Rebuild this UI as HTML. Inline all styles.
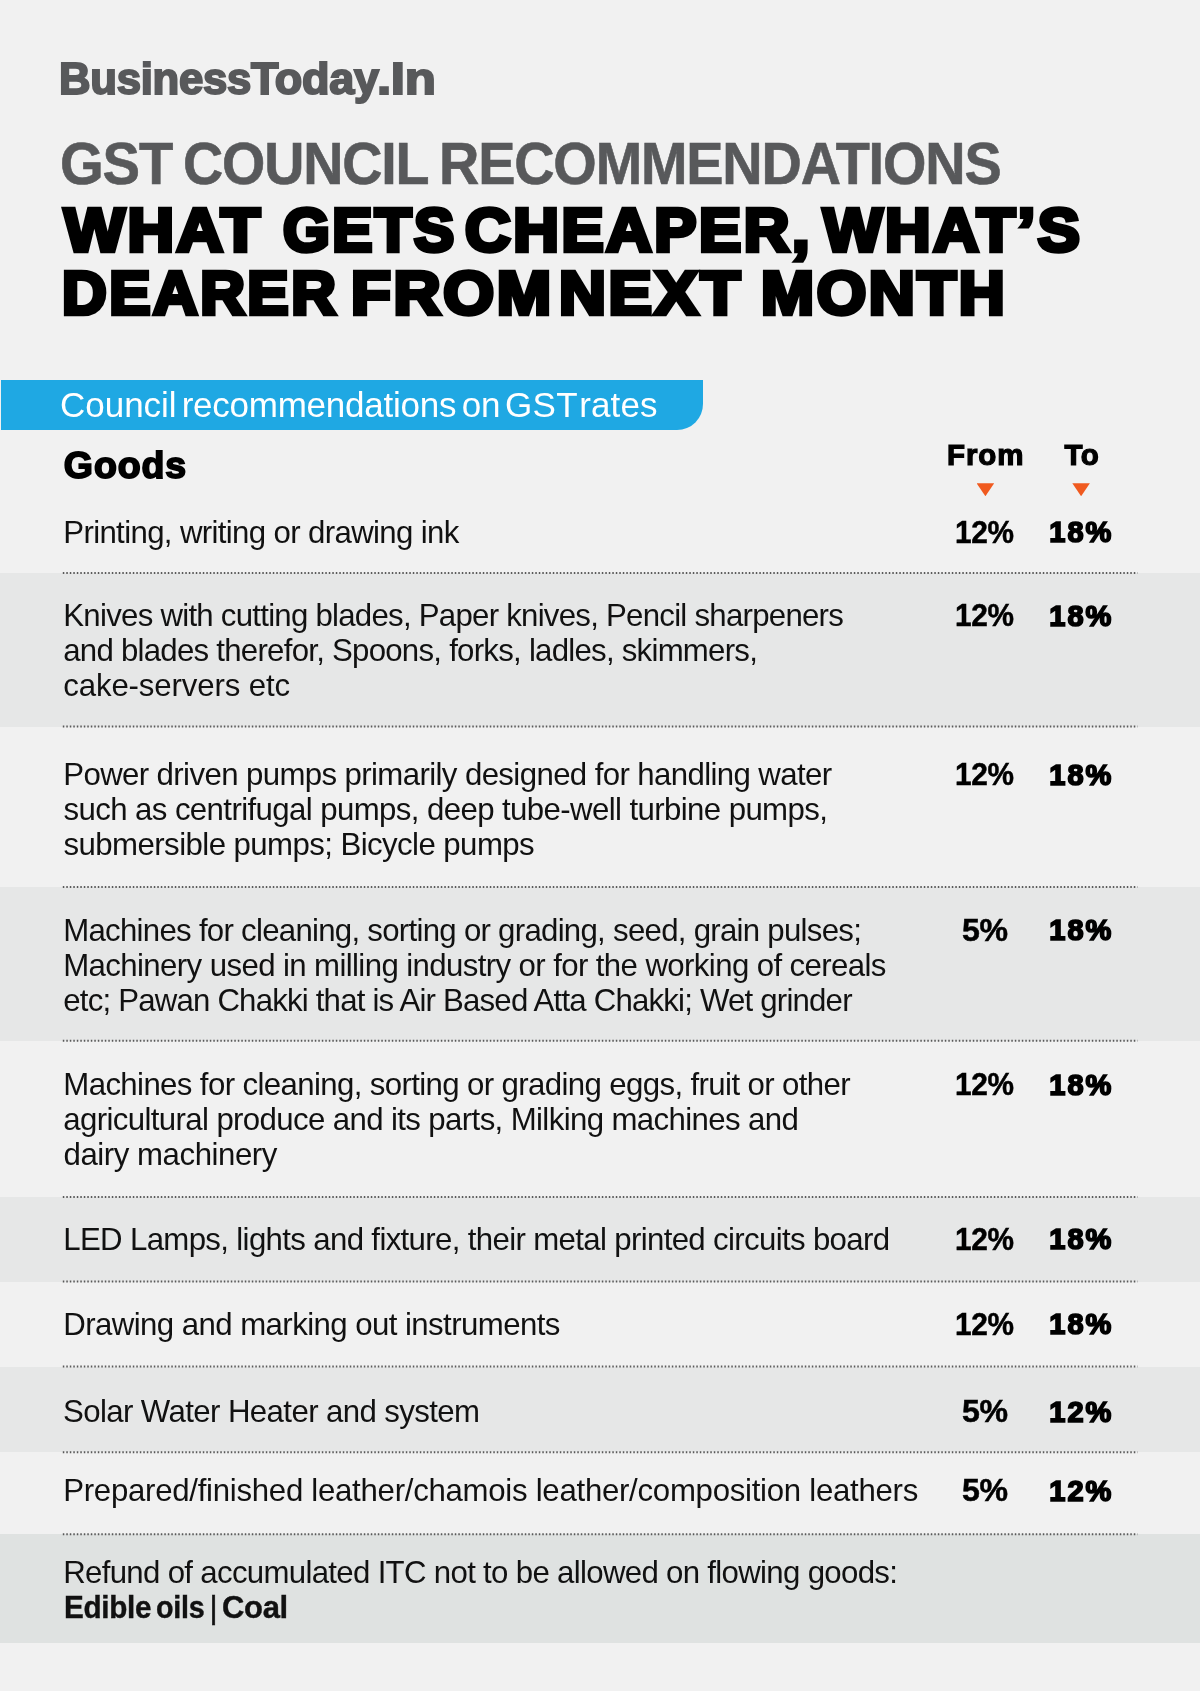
<!DOCTYPE html>
<html><head><meta charset="utf-8"><title>GST Council Recommendations</title>
<style>
html,body{margin:0;padding:0}
body{width:1200px;height:1691px;background:#f1f1f1;position:relative;overflow:hidden;font-family:"Liberation Sans",sans-serif}
.t{position:absolute;white-space:nowrap;line-height:1;margin:0;padding:0}
#txt{position:absolute;left:0;top:0;width:1200px;height:1691px;will-change:transform}
.band{position:absolute;left:0;width:1200px;background:#e6e7e7}
.tri{position:absolute;width:17.6px;height:13px;background:#f05a1f;clip-path:polygon(0 0,100% 0,50% 100%)}
</style></head><body>
<div class="band" style="top:573px;height:153.5px"></div>
<div class="band" style="top:887px;height:153.7px"></div>
<div class="band" style="top:1197px;height:84.5px"></div>
<div class="band" style="top:1366.5px;height:85.7px"></div>
<div class="band" style="top:1534.3px;height:108.7px;background:#dfe2e1"></div>
<div style="position:absolute;left:1px;top:380px;width:701.7px;height:49.8px;background:#1fa8e3;border-bottom-right-radius:26px"></div>
<svg class="dots" width="1200" height="1691" viewBox="0 0 1200 1691" style="position:absolute;left:0;top:0" fill="none" stroke="#5a5a5a" stroke-width="2" stroke-dasharray="1.5 2">
<line x1="62.8" y1="573.0" x2="1137.6" y2="573.0"/>
<line x1="62.8" y1="726.5" x2="1137.6" y2="726.5"/>
<line x1="62.8" y1="887.0" x2="1137.6" y2="887.0"/>
<line x1="62.8" y1="1040.7" x2="1137.6" y2="1040.7"/>
<line x1="62.8" y1="1197.0" x2="1137.6" y2="1197.0"/>
<line x1="62.8" y1="1281.5" x2="1137.6" y2="1281.5"/>
<line x1="62.8" y1="1366.5" x2="1137.6" y2="1366.5"/>
<line x1="62.8" y1="1452.2" x2="1137.6" y2="1452.2"/>
<line x1="62.8" y1="1534.3" x2="1137.6" y2="1534.3"/>
</svg>
<div class="tri" style="left:976.6px;top:483.3px"></div><div class="tri" style="left:1072.3px;top:483.3px"></div>
<div id="txt">
<div class="t" id="logo1" style="left:58.51px;top:56.83px;font-size:44.5px;font-weight:700;color:#58595b;letter-spacing:-0.300px;transform:scaleX(0.9825);transform-origin:0 0;-webkit-text-stroke:2.0px #58595b">Business</div>
<div class="t" id="logo2" style="left:251.00px;top:56.83px;font-size:44.5px;font-weight:700;color:#58595b;letter-spacing:-0.300px;transform:scaleX(1.0121);transform-origin:0 0;-webkit-text-stroke:2.0px #58595b">Today</div>
<div class="t" id="logo3" style="left:377.19px;top:56.83px;font-size:44.5px;font-weight:700;color:#58595b;letter-spacing:-0.300px;transform:scaleX(1.1479);transform-origin:0 0;-webkit-text-stroke:2.0px #58595b">.In</div>
<div class="t" id="gst1" style="left:60.41px;top:134.98px;font-size:58.5px;font-weight:700;color:#58595b;letter-spacing:-1.200px;transform:scaleX(0.9606);transform-origin:0 0;-webkit-text-stroke:0.6px #58595b">GST</div>
<div class="t" id="gst2" style="left:182.81px;top:134.98px;font-size:58.5px;font-weight:700;color:#58595b;letter-spacing:-1.200px;transform:scaleX(0.9507);transform-origin:0 0;-webkit-text-stroke:0.6px #58595b">COUNCIL</div>
<div class="t" id="gst3" style="left:439.13px;top:134.98px;font-size:58.5px;font-weight:700;color:#58595b;letter-spacing:-1.200px;transform:scaleX(0.9538);transform-origin:0 0;-webkit-text-stroke:0.6px #58595b">RECOMMENDATIONS</div>
<div class="t" id="h1a" style="left:63.54px;top:198.89px;font-size:61.5px;font-weight:700;color:#000;letter-spacing:2.500px;transform:scaleX(1.0471);transform-origin:0 0;-webkit-text-stroke:4.5px #000">WHAT</div>
<div class="t" id="h1b" style="left:283.06px;top:198.89px;font-size:61.5px;font-weight:700;color:#000;letter-spacing:2.500px;transform:scaleX(0.9784);transform-origin:0 0;-webkit-text-stroke:4.5px #000">GETS</div>
<div class="t" id="h1c" style="left:464.70px;top:198.89px;font-size:61.5px;font-weight:700;color:#000;letter-spacing:2.500px;transform:scaleX(1.0274);transform-origin:0 0;-webkit-text-stroke:4.5px #000">CHEAPER,</div>
<div class="t" id="h1d" style="left:822.56px;top:198.89px;font-size:61.5px;font-weight:700;color:#000;letter-spacing:2.500px;transform:scaleX(1.0258);transform-origin:0 0;-webkit-text-stroke:4.5px #000">WHAT’S</div>
<div class="t" id="h2a" style="left:62.14px;top:262.19px;font-size:61.5px;font-weight:700;color:#000;letter-spacing:2.500px;transform:scaleX(1.0060);transform-origin:0 0;-webkit-text-stroke:4.5px #000">DEARER</div>
<div class="t" id="h2b" style="left:351.47px;top:262.19px;font-size:61.5px;font-weight:700;color:#000;letter-spacing:2.500px;transform:scaleX(1.0611);transform-origin:0 0;-webkit-text-stroke:4.5px #000">FROM</div>
<div class="t" id="h2c" style="left:558.78px;top:262.19px;font-size:61.5px;font-weight:700;color:#000;letter-spacing:2.500px;transform:scaleX(1.0568);transform-origin:0 0;-webkit-text-stroke:4.5px #000">NEXT</div>
<div class="t" id="h2d" style="left:760.56px;top:262.19px;font-size:61.5px;font-weight:700;color:#000;letter-spacing:2.500px;transform:scaleX(1.0355);transform-origin:0 0;-webkit-text-stroke:4.5px #000">MONTH</div>
<div class="t" id="ban1" style="left:59.95px;top:386.87px;font-size:35px;font-weight:400;color:#fff;letter-spacing:-0.003px">Council</div>
<div class="t" id="ban2" style="left:181.69px;top:386.87px;font-size:35px;font-weight:400;color:#fff;letter-spacing:-0.249px">recommendations</div>
<div class="t" id="ban3" style="left:461.76px;top:386.87px;font-size:35px;font-weight:400;color:#fff;letter-spacing:-0.150px">on</div>
<div class="t" id="ban4" style="left:504.88px;top:386.87px;font-size:35px;font-weight:400;color:#fff;letter-spacing:0.378px">GST</div>
<div class="t" id="ban5" style="left:579.29px;top:386.87px;font-size:35px;font-weight:400;color:#fff;letter-spacing:0.103px">rates</div>
<div class="t" id="goods" style="left:63.83px;top:446.56px;font-size:37.5px;font-weight:700;color:#000;letter-spacing:0.886px;-webkit-text-stroke:1.8px #000">Goods</div>
<div class="t" id="from" style="left:946.98px;top:440.23px;font-size:29.5px;font-weight:700;color:#000;letter-spacing:0.916px;-webkit-text-stroke:1.2px #000">From</div>
<div class="t" id="to" style="left:1064.40px;top:440.23px;font-size:29.5px;font-weight:700;color:#000;letter-spacing:0.416px;-webkit-text-stroke:1.2px #000">To</div>
<div class="t" id="r0_0" style="left:63.23px;top:516.69px;font-size:31.2px;font-weight:400;color:#111;letter-spacing:-0.640px">Printing, writing or drawing ink</div>
<div class="t" id="r0_f" style="left:955.09px;top:516.59px;font-size:31.5px;font-weight:700;color:#000;letter-spacing:-0.400px;transform:scaleX(0.9456);transform-origin:0 0;-webkit-text-stroke:0.5px #000">12%</div>
<div class="t" id="r0_t" style="left:1049.35px;top:518.20px;font-size:29px;font-weight:700;color:#000;letter-spacing:1.959px;-webkit-text-stroke:1.7px #000">18%</div>
<div class="t" id="r1_0" style="left:63.32px;top:600.49px;font-size:31.2px;font-weight:400;color:#111;letter-spacing:-0.740px">Knives with cutting blades, Paper knives, Pencil sharpeners</div>
<div class="t" id="r1_1" style="left:63.25px;top:635.49px;font-size:31.2px;font-weight:400;color:#111;letter-spacing:-0.743px">and blades therefor, Spoons, forks, ladles, skimmers,</div>
<div class="t" id="r1_2" style="left:63.27px;top:670.49px;font-size:31.2px;font-weight:400;color:#111;letter-spacing:-0.132px">cake-servers etc</div>
<div class="t" id="r1_f" style="left:955.09px;top:600.39px;font-size:31.5px;font-weight:700;color:#000;letter-spacing:-0.400px;transform:scaleX(0.9456);transform-origin:0 0;-webkit-text-stroke:0.5px #000">12%</div>
<div class="t" id="r1_t" style="left:1049.35px;top:602.00px;font-size:29px;font-weight:700;color:#000;letter-spacing:1.959px;-webkit-text-stroke:1.7px #000">18%</div>
<div class="t" id="r2_0" style="left:63.23px;top:759.19px;font-size:31.2px;font-weight:400;color:#111;letter-spacing:-0.612px">Power driven pumps primarily designed for handling water</div>
<div class="t" id="r2_1" style="left:63.56px;top:794.19px;font-size:31.2px;font-weight:400;color:#111;letter-spacing:-0.602px">such as centrifugal pumps, deep tube-well turbine pumps,</div>
<div class="t" id="r2_2" style="left:63.56px;top:829.19px;font-size:31.2px;font-weight:400;color:#111;letter-spacing:-0.570px">submersible pumps; Bicycle pumps</div>
<div class="t" id="r2_f" style="left:955.09px;top:759.09px;font-size:31.5px;font-weight:700;color:#000;letter-spacing:-0.400px;transform:scaleX(0.9456);transform-origin:0 0;-webkit-text-stroke:0.5px #000">12%</div>
<div class="t" id="r2_t" style="left:1049.35px;top:760.70px;font-size:29px;font-weight:700;color:#000;letter-spacing:1.959px;-webkit-text-stroke:1.7px #000">18%</div>
<div class="t" id="r3_0" style="left:63.23px;top:914.69px;font-size:31.2px;font-weight:400;color:#111;letter-spacing:-0.720px">Machines for cleaning, sorting or grading, seed, grain pulses;</div>
<div class="t" id="r3_1" style="left:63.23px;top:949.69px;font-size:31.2px;font-weight:400;color:#111;letter-spacing:-0.608px">Machinery used in milling industry or for the working of cereals</div>
<div class="t" id="r3_2" style="left:63.27px;top:984.69px;font-size:31.2px;font-weight:400;color:#111;letter-spacing:-0.804px">etc; Pawan Chakki that is Air Based Atta Chakki; Wet grinder</div>
<div class="t" id="r3_f" style="left:962.22px;top:914.59px;font-size:31.5px;font-weight:700;color:#000;letter-spacing:-0.400px;transform:scaleX(1.0190);transform-origin:0 0;-webkit-text-stroke:0.5px #000">5%</div>
<div class="t" id="r3_t" style="left:1049.35px;top:916.20px;font-size:29px;font-weight:700;color:#000;letter-spacing:1.959px;-webkit-text-stroke:1.7px #000">18%</div>
<div class="t" id="r4_0" style="left:63.32px;top:1069.19px;font-size:31.2px;font-weight:400;color:#111;letter-spacing:-0.621px">Machines for cleaning, sorting or grading eggs, fruit or other</div>
<div class="t" id="r4_1" style="left:63.25px;top:1104.19px;font-size:31.2px;font-weight:400;color:#111;letter-spacing:-0.621px">agricultural produce and its parts, Milking machines and</div>
<div class="t" id="r4_2" style="left:63.49px;top:1139.19px;font-size:31.2px;font-weight:400;color:#111;letter-spacing:-0.448px">dairy machinery</div>
<div class="t" id="r4_f" style="left:955.09px;top:1069.09px;font-size:31.5px;font-weight:700;color:#000;letter-spacing:-0.400px;transform:scaleX(0.9456);transform-origin:0 0;-webkit-text-stroke:0.5px #000">12%</div>
<div class="t" id="r4_t" style="left:1049.35px;top:1070.70px;font-size:29px;font-weight:700;color:#000;letter-spacing:1.959px;-webkit-text-stroke:1.7px #000">18%</div>
<div class="t" id="r5_0" style="left:63.23px;top:1223.69px;font-size:31.2px;font-weight:400;color:#111;letter-spacing:-0.650px">LED Lamps, lights and fixture, their metal printed circuits board</div>
<div class="t" id="r5_f" style="left:955.09px;top:1223.59px;font-size:31.5px;font-weight:700;color:#000;letter-spacing:-0.400px;transform:scaleX(0.9456);transform-origin:0 0;-webkit-text-stroke:0.5px #000">12%</div>
<div class="t" id="r5_t" style="left:1049.35px;top:1225.20px;font-size:29px;font-weight:700;color:#000;letter-spacing:1.959px;-webkit-text-stroke:1.7px #000">18%</div>
<div class="t" id="r6_0" style="left:63.23px;top:1308.69px;font-size:31.2px;font-weight:400;color:#111;letter-spacing:-0.569px">Drawing and marking out instruments</div>
<div class="t" id="r6_f" style="left:955.09px;top:1308.59px;font-size:31.5px;font-weight:700;color:#000;letter-spacing:-0.400px;transform:scaleX(0.9456);transform-origin:0 0;-webkit-text-stroke:0.5px #000">12%</div>
<div class="t" id="r6_t" style="left:1049.35px;top:1310.20px;font-size:29px;font-weight:700;color:#000;letter-spacing:1.959px;-webkit-text-stroke:1.7px #000">18%</div>
<div class="t" id="r7_0" style="left:63.00px;top:1396.19px;font-size:31.2px;font-weight:400;color:#111;letter-spacing:-0.602px">Solar Water Heater and system</div>
<div class="t" id="r7_f" style="left:962.22px;top:1396.09px;font-size:31.5px;font-weight:700;color:#000;letter-spacing:-0.400px;transform:scaleX(1.0190);transform-origin:0 0;-webkit-text-stroke:0.5px #000">5%</div>
<div class="t" id="r7_t" style="left:1049.35px;top:1397.70px;font-size:29px;font-weight:700;color:#000;letter-spacing:1.959px;-webkit-text-stroke:1.7px #000">12%</div>
<div class="t" id="r8_0" style="left:63.23px;top:1475.39px;font-size:31.2px;font-weight:400;color:#111;letter-spacing:-0.278px">Prepared/finished leather/chamois leather/composition leathers</div>
<div class="t" id="r8_f" style="left:962.22px;top:1475.29px;font-size:31.5px;font-weight:700;color:#000;letter-spacing:-0.400px;transform:scaleX(1.0190);transform-origin:0 0;-webkit-text-stroke:0.5px #000">5%</div>
<div class="t" id="r8_t" style="left:1049.35px;top:1476.90px;font-size:29px;font-weight:700;color:#000;letter-spacing:1.959px;-webkit-text-stroke:1.7px #000">12%</div>
<div class="t" id="ft1" style="left:63.23px;top:1556.99px;font-size:31.2px;font-weight:400;color:#111;letter-spacing:-0.681px">Refund of accumulated ITC not to be allowed on flowing goods:</div>
<div class="t" id="ft2a" style="left:63.66px;top:1591.99px;font-size:31.2px;font-weight:700;color:#111;letter-spacing:-0.300px;transform:scaleX(0.9510);transform-origin:0 0;-webkit-text-stroke:0.4px #111">Edible</div>
<div class="t" id="ft2b" style="left:156.34px;top:1591.99px;font-size:31.2px;font-weight:700;color:#111;letter-spacing:-0.300px;transform:scaleX(0.9207);transform-origin:0 0;-webkit-text-stroke:0.4px #111">oils</div>
<div class="t" id="ft2c" style="left:209.58px;top:1591.94px;font-size:31.2px;font-weight:400;color:#111;letter-spacing:0.000px;-webkit-text-stroke:0.5px #111">|</div>
<div class="t" id="ft2d" style="left:221.93px;top:1591.99px;font-size:31.2px;font-weight:700;color:#111;letter-spacing:-0.300px;transform:scaleX(0.9932);transform-origin:0 0;-webkit-text-stroke:0.4px #111">Coal</div>
</div>
</body></html>
